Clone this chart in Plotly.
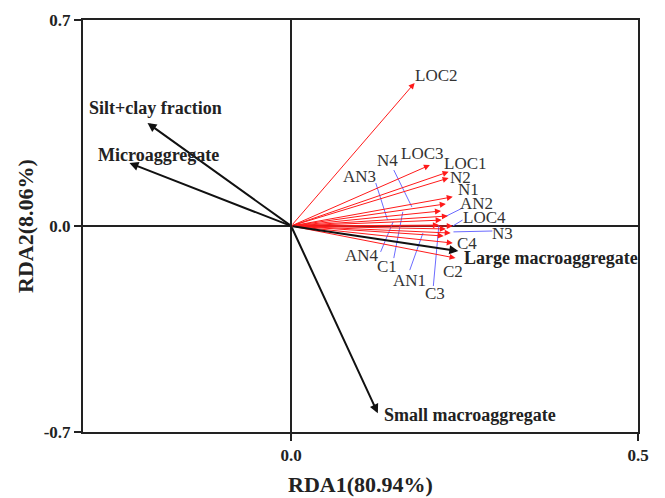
import plotly.graph_objects as go

# Species (response) vectors
species = ["LOC2", "LOC3", "LOC1", "N2", "N1", "N4", "AN2", "AN3",
           "C1", "LOC4", "C3", "AN4", "N3", "AN1", "C4", "C2"]
sp_x = [0.178, 0.200, 0.227, 0.227, 0.233, 0.223, 0.226, 0.216,
        0.217, 0.233, 0.213, 0.223, 0.230, 0.220, 0.233, 0.237]
sp_y = [0.486, 0.207, 0.184, 0.163, 0.099, 0.075, 0.034, 0.051,
        0.020, 0.000, 0.003, -0.010, -0.024, -0.034, -0.058, -0.109]
# label positions of species
sp_lx = [0.210, 0.190, 0.252, 0.244, 0.256, 0.139, 0.267, 0.099,
         0.138, 0.279, 0.208, 0.102, 0.305, 0.170, 0.254, 0.234]
sp_ly = [0.510, 0.247, 0.213, 0.165, 0.125, 0.221, 0.075, 0.167,
         -0.136, 0.029, -0.231, -0.099, -0.027, -0.184, -0.058, -0.153]

# Leader lines (label side -> vector side)
leader_names = ["N4", "AN3", "AN4", "C1", "AN1", "C3", "AN2", "LOC4", "N3"]
leader_x0 = [0.148, 0.122, 0.129, 0.148, 0.171, 0.205, 0.247, 0.247, 0.290]
leader_y0 = [0.190, 0.146, -0.088, -0.109, -0.150, -0.204, 0.061, 0.020, -0.017]
leader_x1 = [0.174, 0.139, 0.147, 0.161, 0.190, 0.213, 0.218, 0.233, 0.234]
leader_y1 = [0.065, 0.020, 0.014, 0.048, -0.024, 0.003, 0.027, 0.000, -0.020]

# Environmental vectors
env = ["Silt+clay fraction", "Microaggregate", "Small macroaggregate", "Large macroaggregate"]
env_x = [-0.207, -0.233, 0.125, 0.241]
env_y = [0.350, 0.214, -0.636, -0.085]
env_lx = [-0.195, -0.191, 0.131, 0.247]
env_ly = [0.401, 0.241, -0.643, -0.109]
env_anchor = ["center", "center", "left", "left"]

x_ticks = [0.0, 0.5]
y_ticks = [-0.7, 0.0, 0.7]
x_title = "RDA1(80.94%)"
y_title = "RDA2(8.06%)"

FONT = "Liberation Serif, Times New Roman, serif"
INK = "#222222"

fig = go.Figure()
# invisible trace to establish axes
fig.add_trace(go.Scatter(x=[0], y=[0], mode="markers",
                         marker=dict(size=1, color="rgba(0,0,0,0)"),
                         hoverinfo="skip", showlegend=False))

annotations = []
shapes = []

# leader lines
for i in range(len(leader_names)):
    shapes.append(dict(type="line", xref="x", yref="y",
                       x0=leader_x0[i], y0=leader_y0[i],
                       x1=leader_x1[i], y1=leader_y1[i],
                       line=dict(color="#6b6bff", width=1), layer="above"))

# species arrows
for i, name in enumerate(species):
    annotations.append(dict(x=sp_x[i], y=sp_y[i], ax=0, ay=0,
                            xref="x", yref="y", axref="x", ayref="y",
                            text="", showarrow=True, arrowhead=2,
                            arrowsize=1.2, arrowwidth=1, arrowcolor="#ff1a1a"))
    annotations.append(dict(x=sp_lx[i], y=sp_ly[i], xref="x", yref="y",
                            text=name, showarrow=False,
                            font=dict(family=FONT, size=17, color="#333333"),
                            xanchor="center", yanchor="middle"))

# environmental arrows
for i, name in enumerate(env):
    annotations.append(dict(x=env_x[i], y=env_y[i], ax=0, ay=0,
                            xref="x", yref="y", axref="x", ayref="y",
                            text="", showarrow=True, arrowhead=2,
                            arrowsize=0.9, arrowwidth=2, arrowcolor="#111111"))
    annotations.append(dict(x=env_lx[i], y=env_ly[i], xref="x", yref="y",
                            text="<b>" + name + "</b>", showarrow=False,
                            font=dict(family=FONT, size=18, color=INK),
                            xanchor=env_anchor[i], yanchor="middle"))

# axis titles
annotations.append(dict(x=0.5, y=-0.128, xref="paper", yref="paper",
                        text="<b>" + x_title + "</b>", showarrow=False,
                        font=dict(family=FONT, size=22, color=INK),
                        xanchor="center", yanchor="middle"))
annotations.append(dict(x=-0.1045, y=0.5, xref="paper", yref="paper",
                        text="<b>" + y_title + "</b>", showarrow=False,
                        textangle=-90,
                        font=dict(family=FONT, size=22, color=INK),
                        xanchor="center", yanchor="middle"))

fig.update_layout(
    width=665, height=498,
    margin=dict(l=83, r=27, t=20, b=66),
    paper_bgcolor="white", plot_bgcolor="white",
    showlegend=False,
    annotations=annotations, shapes=shapes,
    font=dict(family=FONT, color=INK),
)
fig.update_xaxes(
    range=[-0.3, 0.5], tickvals=x_ticks, automargin=False,
    ticktext=["<b>%.1f</b>" % v for v in x_ticks],
    tickfont=dict(family=FONT, size=17, color=INK),
    ticks="outside", ticklen=7, tickwidth=2, tickcolor=INK,
    showline=True, linewidth=2, linecolor=INK, mirror=True,
    showgrid=False, zeroline=True, zerolinewidth=2, zerolinecolor=INK,
)
fig.update_yaxes(
    range=[-0.7, 0.7], tickvals=y_ticks, automargin=False,
    ticktext=["<b>%.1f</b>" % v for v in y_ticks],
    tickfont=dict(family=FONT, size=17, color=INK),
    ticks="outside", ticklen=7, tickwidth=2, tickcolor=INK,
    showline=True, linewidth=2, linecolor=INK, mirror=True,
    showgrid=False, zeroline=True, zerolinewidth=2, zerolinecolor=INK,
)

fig.write_html("out.html")
